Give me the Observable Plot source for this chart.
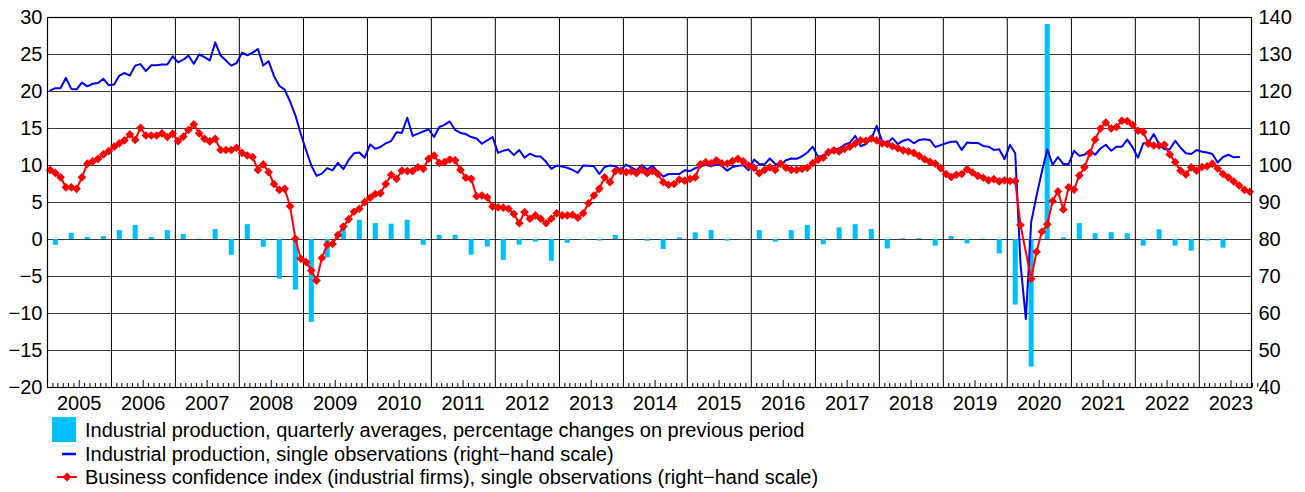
<!DOCTYPE html>
<html>
<head>
<meta charset="utf-8">
<script src="https://cdn.jsdelivr.net/npm/d3@7"></script>
<script src="https://cdn.jsdelivr.net/npm/@observablehq/plot@0.6"></script>
<style>
  html, body { margin: 0; padding: 0; background: #fff; }
  #chart { position: relative; width: 1305px; height: 492px; font-family: "Liberation Sans", Arial, sans-serif; color: #000; }
  #chart svg { display: block; }
  .row { position: absolute; left: 85px; height: 22px; line-height: 22px; font-size: 20px; white-space: nowrap; }
  .sw { position: absolute; }
</style>
</head>
<body>
<div id="chart"></div>
<script>
// ---- Data ----
const firstYear = 2005;

// Industrial production, single observations (monthly, right-hand scale), Jan 2005 - Aug 2023
const ipMonthly = [
  120.3, 120.9, 120.9, 123.7, 120.7, 120.6, 122.4, 121.4, 122.1, 122.3, 123.4, 121.7, // 2005
  121.9, 124.3, 125.0, 124.3, 127.0, 127.4, 125.5, 127.1, 127.1, 127.3, 127.3, 129.5, // 2006
  127.9, 128.6, 129.7, 127.5, 130.0, 129.3, 128.4, 133.3, 129.7, 128.4, 127.0, 127.7, // 2007
  130.5, 129.8, 130.5, 131.5, 127.0, 128.2, 124.2, 121.5, 120.5, 117.3, 113.5, 108.6, // 2008
  104.0, 100.0, 97.2, 97.8, 99.3, 98.7, 100.7, 99.0, 101.5, 103.3, 103.5, 102.1,      // 2009
  105.7, 104.5, 105.0, 106.0, 106.6, 109.0, 108.8, 112.9, 108.0, 108.6, 109.2, 109.8, // 2010
  107.7, 110.4, 111.0, 111.9, 109.6, 108.8, 108.5, 107.7, 107.3, 105.9, 106.8, 107.7, // 2011
  103.4, 104.0, 104.3, 102.8, 104.2, 102.1, 103.2, 102.5, 102.4, 101.0, 99.1, 100.0,  // 2012
  99.7, 99.4, 98.8, 98.0, 100.0, 99.9, 99.8, 97.7, 99.6, 100.0, 99.8, 98.8,           // 2013
  100.2, 99.5, 98.7, 100.1, 98.9, 99.9, 98.3, 97.0, 97.7, 97.7, 97.7, 98.7,           // 2014
  98.5, 99.3, 99.7, 100.2, 99.8, 100.4, 99.9, 98.6, 99.6, 99.9, 100.1, 98.7,          // 2015
  101.6, 100.4, 100.3, 101.9, 100.4, 100.1, 101.4, 101.9, 101.8, 102.5, 103.5, 105.1, // 2016
  102.3, 102.8, 103.5, 104.1, 104.6, 105.6, 106.2, 108.0, 105.2, 105.8, 107.2, 110.7, // 2017
  106.6, 106.1, 107.4, 105.8, 106.7, 107.1, 106.0, 106.9, 107.1, 106.9, 105.0, 105.5, // 2018
  106.0, 106.4, 106.5, 104.2, 106.2, 106.1, 106.1, 105.3, 105.1, 104.2, 104.4, 101.7, // 2019
  105.6, 103.3, 73.5, 58.5, 84.7, 91.8, 98.3, 104.4, 100.2, 102.3, 100.4, 100.4,      // 2020
  104.0, 102.6, 102.9, 104.2, 102.9, 104.6, 105.6, 104.0, 105.1, 105.1, 107.0, 104.9, // 2021
  102.1, 106.0, 106.1, 108.5, 105.8, 104.4, 104.4, 106.7, 104.8, 103.3, 103.1, 104.2, // 2022
  103.7, 103.5, 103.1, 100.8, 102.3, 102.9, 102.2, 102.3                              // 2023
];

// Business confidence index (industrial firms), monthly, right-hand scale, Jan 2005 - Oct 2023 (Apr 2020 not available)
const confidenceMonthly = [
  98.8, 98.0, 96.8, 94.1, 94.1, 93.7, 96.8, 100.5, 101.1, 101.8, 103.0, 103.9,        // 2005
  105.1, 106.0, 106.8, 108.4, 106.9, 110.2, 108.1, 108.1, 108.1, 108.7, 107.7, 108.6, // 2006
  106.6, 107.8, 109.6, 111.1, 108.7, 107.2, 106.5, 107.2, 104.2, 104.2, 104.2, 104.8, // 2007
  103.4, 102.7, 102.3, 98.8, 100.3, 98.2, 95.0, 93.4, 93.7, 89.0, 80.2, 74.8,         // 2008
  73.9, 71.6, 68.9, 75.0, 78.6, 78.8, 81.2, 83.5, 85.5, 87.5, 88.3, 90.1,             // 2009
  91.3, 92.3, 92.5, 95.0, 97.5, 96.4, 98.6, 98.5, 98.5, 99.5, 99.1, 101.8,            // 2010
  102.7, 100.7, 100.9, 101.6, 101.4, 98.8, 96.7, 96.4, 91.7, 91.9, 91.4, 88.9,        // 2011
  88.7, 88.6, 88.3, 86.9, 84.4, 87.4, 85.6, 86.5, 85.6, 84.4, 85.6, 87.1,             // 2012
  86.5, 86.5, 86.7, 85.9, 87.1, 89.8, 91.9, 93.7, 96.8, 95.5, 98.5, 98.5,             // 2013
  98.2, 98.4, 97.9, 98.8, 97.9, 98.5, 97.7, 95.5, 94.8, 95.0, 96.2, 95.9,             // 2014
  96.4, 96.8, 100.3, 100.9, 100.6, 101.4, 100.6, 100.5, 101.2, 101.8, 101.1, 100.0,   // 2015
  99.4, 97.9, 98.8, 99.5, 98.8, 100.5, 99.4, 98.8, 98.8, 99.1, 99.4, 100.6,           // 2016
  101.6, 102.1, 103.6, 104.1, 103.8, 104.5, 105.1, 105.9, 106.8, 106.7, 107.3, 106.8, // 2017
  106.0, 105.8, 105.2, 104.7, 104.1, 103.8, 103.4, 102.6, 101.7, 101.0, 100.5, 99.3,  // 2018
  97.7, 96.9, 97.5, 97.7, 99.0, 98.1, 97.2, 96.7, 96.0, 96.3, 95.7, 96.0,             // 2019
  95.8, 95.8, 83.9, null, 69.4, 76.7, 82.1, 84.1, 90.4, 93.0, 88.1, 94.1,             // 2020
  93.5, 97.3, 99.5, 103.3, 107.0, 110.0, 111.6, 110.0, 110.4, 112.1, 112.0, 111.0,    // 2021
  109.4, 109.1, 105.9, 105.4, 105.4, 105.6, 103.0, 100.9, 98.6, 97.6, 99.5, 98.6,     // 2022
  99.6, 99.8, 100.5, 99.2, 97.7, 96.8, 95.7, 94.6, 93.4, 92.9                         // 2023
];

// Industrial production, quarterly averages, % changes on previous period (left-hand scale), Q1 2005 - Q2 2023
const ipQuarterlyChange = [
  -0.8, 0.85, 0.27, 0.4,      // 2005
  1.2, 1.9, 0.27, 1.2,        // 2006
  0.68, 0.05, 1.35, -2.15,    // 2007
  2.0, -1.05, -5.35, -6.85,   // 2008
  -11.2, -2.5, 1.75, 2.6,     // 2009
  2.15, 2.07, 2.6, -0.78,     // 2010
  0.57, 0.57, -2.13, -1.02,   // 2011
  -2.82, -0.78, -0.36, -2.95, // 2012
  -0.52, -0.1, -0.21, 0.56,   // 2013
  -0.07, -0.24, -1.35, 0.22,  // 2014
  0.9, 1.2, -0.22, -0.05,     // 2015
  1.2, -0.36, 1.2, 1.9,       // 2016
  -0.72, 1.58, 2.0, 1.35,     // 2017
  -1.28, 0.08, 0.1, -0.9,     // 2018
  0.4, -0.6, 0.05, -1.94,     // 2019
  -8.85, -17.25, 29.05, 0.22, // 2020
  2.15, 0.78, 0.92, 0.78,     // 2021
  -0.9, 1.32, -0.9, -1.58,    // 2022
  -0.22, -1.17                // 2023
];

const yearLabels = d3.range(2005, 2024);
const leftTicks = d3.range(-20, 31, 5);   // left-hand scale
const rightTicks = d3.range(40, 141, 10); // right-hand scale

const legendLabels = [
  "Industrial production, quarterly averages, percentage changes on previous period",
  "Industrial production, single observations (right\u2212hand scale)",
  "Business confidence index (industrial firms), single observations (right\u2212hand scale)"
];

// ---- Build tables ----
const monthCenter = i => {
  const y = firstYear + Math.floor(i / 12), m = i % 12;
  return new Date((Date.UTC(y, m, 1) + Date.UTC(y, m + 1, 1)) / 2);
};
const quarterCenter = i => {
  const y = firstYear + Math.floor(i / 4), q = i % 4;
  return new Date((Date.UTC(y, 3 * q, 1) + Date.UTC(y, 3 * q + 3, 1)) / 2);
};
// right-hand scale (40..140) shares the frame with the left-hand scale (-20..30)
const rightToLeft = v => (v - 80) / 2;
const leftToRight = v => 80 + 2 * v;

const ipRows = ipMonthly.map((v, i) => ({date: monthCenter(i), value: v}));
const confRows = confidenceMonthly.map((v, i) => ({date: monthCenter(i), value: v})).filter(d => d.value != null);
const barRows = ipQuarterlyChange.map((v, i) => ({date: quarterCenter(i), value: v}));

const yearStarts = yearLabels.map(y => new Date(Date.UTC(y, 0, 1)));
const midYears = yearLabels.map(y => new Date(Date.UTC(y, 6, 1)));
const monthStarts = [];
for (const y of yearLabels) for (let m = 1; m < 12; m++) if (m !== 6) monthStarts.push(new Date(Date.UTC(y, m, 1)));

const xDomain = [new Date(Date.UTC(2005, 0, 1)), new Date(Date.UTC(2023, 9, 26))];

const plot = Plot.plot({
  width: 1305,
  height: 412,
  marginLeft: 47,
  marginRight: 54,
  marginTop: 17,
  marginBottom: 25,
  style: {fontFamily: "'Liberation Sans', Arial, sans-serif", fontSize: "20px", color: "#000", background: "#fff", overflow: "visible"},
  x: {type: "utc", domain: xDomain},
  y: {domain: [-20, 30]},
  marks: [
    Plot.ruleY(leftTicks.filter(d => d > -20 && d < 30), {stroke: "#3a3a3a", strokeWidth: 1.2}),
    Plot.ruleX(yearStarts.slice(1), {stroke: "#000", strokeWidth: 1}),
    Plot.ruleX(barRows, {x: "date", y1: 0, y2: "value", stroke: "#00BFFF", strokeWidth: 5}),
    Plot.line(ipRows, {x: "date", y: d => rightToLeft(d.value), stroke: "#0000FF", strokeWidth: 2}),
    Plot.line(confRows, {x: "date", y: d => rightToLeft(d.value), stroke: "#FF0000", strokeWidth: 2}),
    Plot.dot(confRows, {x: "date", y: d => rightToLeft(d.value), symbol: "diamond2", r: 3.9, fill: "#FF0000", stroke: "none"}),
    Plot.frame({stroke: "#000", strokeWidth: 1.2}),
    Plot.axisX(monthStarts, {tickSize: -4, tickFormat: () => "", label: null}),
    Plot.axisX(midYears, {tickSize: -7, tickFormat: () => "", label: null}),
    Plot.axisX(midYears, {tickSize: 0, tickPadding: 8, tickFormat: d => String(d.getUTCFullYear()), label: null, fontSize: 20}),
    Plot.axisY(leftTicks, {anchor: "left", tickSize: 0, tickPadding: 5, tickFormat: d3.format("d"), label: null, fontSize: 20}),
    Plot.axisY(rightTicks.map(rightToLeft), {anchor: "right", tickSize: 0, tickPadding: 7, tickFormat: d => String(leftToRight(d)), label: null, fontSize: 20})
  ]
});

const chart = document.getElementById("chart");
chart.appendChild(plot);

// ---- Legend (below the SVG) ----
const rowsTop = [419, 443, 466];
const sw1 = document.createElement("div");
sw1.className = "sw";
Object.assign(sw1.style, {left: "52px", top: "417px", width: "24px", height: "25px", background: "#00BFFF"});
chart.appendChild(sw1);

const sw2 = document.createElementNS("http://www.w3.org/2000/svg", "svg");
sw2.setAttribute("width", "30"); sw2.setAttribute("height", "12");
sw2.style.left = "55px"; sw2.style.top = "448px"; sw2.style.position = "absolute";
sw2.innerHTML = '<line x1="7" x2="21" y1="6" y2="6" stroke="#0000FF" stroke-width="2.5"/>';
chart.appendChild(sw2);

const sw3 = document.createElementNS("http://www.w3.org/2000/svg", "svg");
sw3.setAttribute("width", "30"); sw3.setAttribute("height", "14");
sw3.style.left = "52px"; sw3.style.top = "470px"; sw3.style.position = "absolute";
sw3.innerHTML = '<line x1="5" x2="25" y1="7" y2="7" stroke="#FF0000" stroke-width="2"/><path d="M15,2.5L19.5,7L15,11.5L10.5,7Z" fill="#FF0000"/>';
chart.appendChild(sw3);

legendLabels.forEach((t, i) => {
  const d = document.createElement("div");
  d.className = "row";
  d.style.top = rowsTop[i] + "px";
  d.textContent = t;
  chart.appendChild(d);
});
</script>
</body>
</html>
